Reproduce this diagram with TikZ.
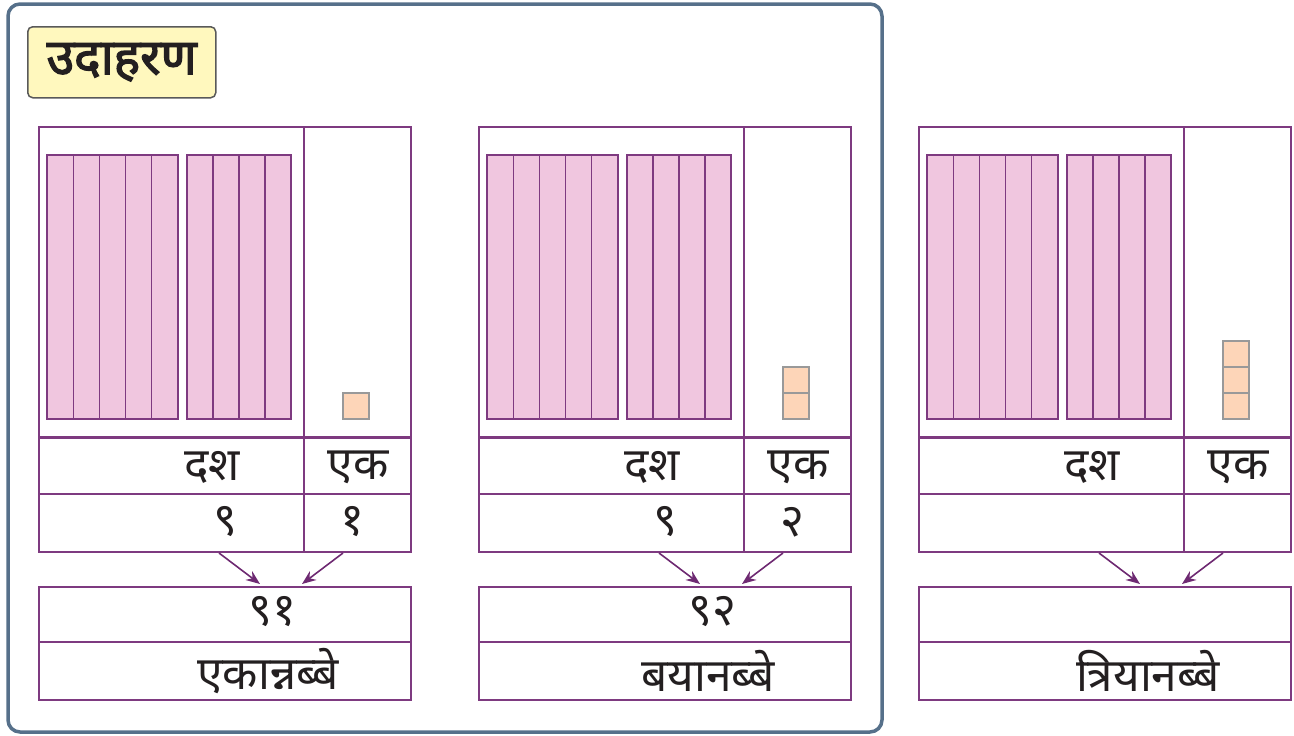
\documentclass[tikz,border=0pt]{standalone}
\usepackage{fontspec}
\newfontfamily\deva[Script=Devanagari]{Noto Sans}
\newfontfamily\devabold[Script=Devanagari, FakeBold=2.5]{Noto Sans}
\usetikzlibrary{arrows.meta,positioning}

\definecolor{framegray}{HTML}{56708A}
\definecolor{tagfill}{HTML}{FFF8BE}
\definecolor{cellline}{HTML}{7E3A80}
\definecolor{rodfill}{HTML}{F0C6DF}
\definecolor{unitfill}{HTML}{FDD5B8}
\definecolor{arrowcol}{HTML}{6E2A72}
\definecolor{inkcol}{HTML}{231F20}

\tikzset{
  cell/.style={draw=cellline, line width=1.6pt, anchor=north west, inner sep=0pt},
  rod/.style={draw=cellline, line width=1.2pt, fill=rodfill},
  unitcube/.style={draw=gray!80, line width=1.2pt, fill=unitfill},
  lbl/.style={text=inkcol, font=\deva\fontsize{46}{50}\selectfont, inner sep=0pt},
}

\begin{document}
\begin{tikzpicture}[x=1pt, y=-1pt, >={Stealth[length=14pt,width=11pt]}]
    % Page size
    \useasboundingbox (0,0) rectangle (1294,736);
    
    % Example frame and its tag
    \draw[framegray, line width=3.5pt, rounded corners=12pt] (8,4) rectangle (882,732);
    \node[draw=gray!70!black, line width=1.5pt, fill=tagfill, rounded corners=5pt,
          minimum width=188pt, minimum height=71pt, anchor=north west] (tag) at (27,26) {};
    \node[text=inkcol, font=\devabold\fontsize{50}{54}\selectfont, inner sep=0pt] (tagtext) at (tag.center) {उदाहरण};
    
    % Three place-value panels, 440pt apart
    \foreach \i/\n/\tv/\ov/\num/\word in {0/1/९/१/९१/एकान्नब्बे, 1/2/९/२/९२/बयानब्बे, 2/3/{}/{}/{}/त्रियानब्बे} {
      \begin{scope}[xshift=\i*440pt]
        % Table cells
        \node[cell, minimum width=265pt, minimum height=310pt] (tensbox\i) at (38,126) {};
        \node[cell, minimum width=107pt, minimum height=310pt] (onesbox\i) at (303,126) {};
        \node[cell, minimum width=265pt, minimum height=56pt] (tenshead\i) at (38,437) {};
        \node[cell, minimum width=107pt, minimum height=56pt] (oneshead\i) at (303,437) {};
        \node[cell, minimum width=265pt, minimum height=58pt] (tensval\i) at (38,493) {};
        \node[cell, minimum width=107pt, minimum height=58pt] (onesval\i) at (303,493) {};
        \node[cell, minimum width=372pt, minimum height=55pt] (numbox\i) at (38,586) {};
        \node[cell, minimum width=372pt, minimum height=58pt] (wordbox\i) at (38,641) {};
        
        % Tens rods (5 + 4)
        \foreach \k in {0,...,4} \draw[rod] ({47+\k*26.2},155) rectangle ++(26.2,264);
        \foreach \k in {0,...,3} \draw[rod] ({187+\k*26},155) rectangle ++(26,264);
        
        % Ones cubes, stacked upward
        \foreach \k in {1,...,\n} \draw[unitcube] (343,{419-\k*26}) rectangle ++(26,26);
        
        % Labels
        \node[lbl] (tlab\i) at (212,467) {दश};
        \node[lbl] (olab\i) at (358,467) {एक};
        \node[lbl] (tnum\i) at (225,522) {\tv};
        \node[lbl] (onum\i) at (352,522) {\ov};
        \node[lbl] (total\i) at (272,612) {\num};
        \node[lbl] (name\i) at (268,671) {\word};
        
        % Arrows into the total
        \coordinate (tfrom\i) at (219,553);
        \coordinate (tto\i) at (260,584);
        \coordinate (ofrom\i) at (343,553);
        \coordinate (oto\i) at (302,584);
        \draw[->, arrowcol, line width=1.6pt] (tfrom\i) -- (tto\i);
        \draw[->, arrowcol, line width=1.6pt] (ofrom\i) -- (oto\i);
      \end{scope}
    }
\end{tikzpicture}
\end{document}
